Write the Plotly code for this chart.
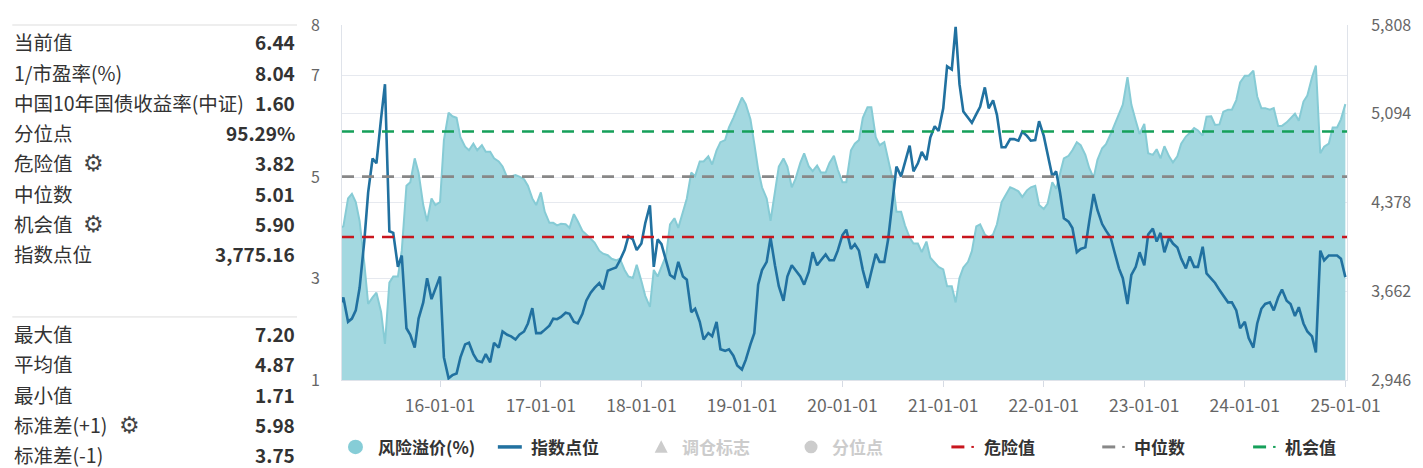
import plotly.graph_objects as go
import pandas as pd

# ---------------- data ----------------
dates = list(pd.date_range("2015-01-01", "2024-12-15", freq="SMS").strftime("%Y-%m-%d")) + ["2024-12-31"]

premium = [
    4.00, 4.03, 4.58, 4.67, 4.51, 4.13, 3.30, 2.50, 2.63, 2.72, 2.34, 1.71, 2.92, 3.04, 3.04, 3.55, 4.83, 4.90, 5.37, 5.09, 4.45, 4.13, 4.58, 4.45,
    4.51, 5.73, 6.27, 6.20, 6.17, 5.79, 5.60, 5.53, 5.66, 5.53, 5.63, 5.50, 5.50, 5.37, 5.31, 5.21, 4.99, 5.02, 5.04, 5.01, 4.96, 4.83, 4.58, 4.45,
    4.70, 4.32, 4.10, 4.10, 4.05, 4.08, 4.07, 4.00, 4.27, 4.13, 3.94, 3.87, 3.78, 3.71, 3.55, 3.49, 3.46, 3.39, 3.36, 3.39, 3.17, 3.04, 3.01, 3.27,
    2.95, 2.66, 2.44, 3.17, 3.04, 3.23, 3.46, 4.07, 4.19, 4.00, 4.32, 4.58, 5.09, 5.02, 5.31, 5.31, 5.41, 5.25, 5.53, 5.69, 5.73, 5.98, 6.17, 6.36,
    6.57, 6.44, 6.14, 5.66, 5.15, 4.80, 4.58, 4.14, 4.70, 5.21, 5.37, 5.21, 4.80, 4.97, 5.28, 5.47, 5.21, 5.12, 5.23, 5.09, 5.09, 5.28, 5.42, 5.15,
    4.90, 4.90, 5.53, 5.66, 5.73, 6.17, 6.38, 6.38, 5.79, 5.63, 5.69, 5.34, 4.96, 4.32, 4.32, 4.05, 3.81, 3.69, 3.69, 3.52, 3.73, 3.41, 3.32, 3.23,
    3.18, 2.85, 2.85, 2.53, 3.01, 3.22, 3.33, 3.54, 4.03, 4.07, 3.87, 3.81, 3.87, 4.07, 4.51, 4.64, 4.80, 4.77, 4.72, 4.61, 4.74, 4.80, 4.83, 4.45,
    4.37, 4.48, 4.90, 4.77, 5.05, 5.37, 5.42, 5.53, 5.69, 5.63, 5.44, 5.18, 4.99, 5.34, 5.57, 5.65, 5.85, 6.04, 6.24, 6.43, 6.97, 6.43, 6.11, 5.85,
    6.05, 5.47, 5.44, 5.55, 5.37, 5.61, 5.41, 5.29, 5.41, 5.66, 5.80, 5.87, 5.97, 5.92, 5.82, 6.19, 6.20, 6.03, 6.04, 6.29, 6.33, 6.33, 6.52, 6.87,
    7.00, 7.00, 7.10, 6.59, 6.36, 6.36, 6.33, 6.36, 6.01, 6.01, 6.08, 6.17, 6.25, 6.11, 6.49, 6.61, 6.97, 7.20, 5.47, 5.60, 5.66, 5.98, 5.98, 6.14,
    6.44,
]

index_points = [
    3546, 3611, 3415, 3441, 3507, 3689, 4067, 4458, 4732, 4693, 5058, 5331, 4145, 4132, 3858, 3950, 3363, 3311, 3207, 3441, 3572, 3767, 3598, 3676,
    3780, 3128, 2960, 2985, 2998, 3128, 3233, 3246, 3155, 3102, 3089, 3155, 3089, 3246, 3207, 3337, 3311, 3298, 3272, 3311, 3337, 3402, 3525, 3324,
    3324, 3350, 3384, 3441, 3436, 3454, 3488, 3480, 3415, 3402, 3480, 3585, 3650, 3689, 3728, 3676, 3827, 3840, 3853, 3911, 3994, 4106, 4080, 3994,
    4046, 4210, 4354, 3858, 4080, 4041, 3898, 3793, 3767, 3898, 3780, 3754, 3493, 3520, 3415, 3272, 3324, 3298, 3415, 3194, 3181, 3194, 3142, 3063,
    3030, 3108, 3233, 3324, 3715, 3832, 3898, 4093, 3871, 3702, 3585, 3780, 3871, 3832, 3780, 3715, 3819, 3976, 3871, 3911, 3958, 3911, 3911, 3989,
    4114, 4158, 4002, 4041, 3989, 3832, 3689, 3819, 3963, 3898, 3898, 4080, 4406, 4667, 4588, 4703, 4836, 4628, 4693, 4784, 4719, 4901, 4992, 4953,
    5136, 5475, 5449, 5793, 5331, 5110, 5058, 5019, 5089, 5149, 5305, 5136, 5201, 5084, 4823, 4823, 4888, 4888, 4875, 4948, 4914, 4875, 4880, 5032,
    4914, 4771, 4588, 4628, 4458, 4250, 4223, 4171, 3976, 4002, 4015, 4223, 4445, 4315, 4203, 4150, 4093, 3976, 3846, 3767, 3559, 3793, 3858, 3976,
    3870, 4119, 4166, 4062, 4132, 3976, 4093, 4046, 4015, 3924, 3846, 3942, 3858, 3858, 4020, 3806, 3767, 3728, 3671, 3624, 3572, 3572, 3507, 3363,
    3415, 3285, 3207, 3402, 3520, 3559, 3572, 3507, 3611, 3676, 3585, 3559, 3462, 3533, 3402, 3337, 3298, 3168, 3989, 3911, 3950, 3950, 3950, 3924,
    3775.16,
]

danger_value = 3.82
median_value = 5.01
opportunity_value = 5.90

left_tick_vals = [1, 3, 5, 7, 8]
right_tick_vals = [2946, 3662, 4378, 5094, 5808]
right_tick_text = ["2,946", "3,662", "4,378", "5,094", "5,808"]
x_tick_vals = ["2016-01-01", "2017-01-01", "2018-01-01", "2019-01-01", "2020-01-01",
               "2021-01-01", "2022-01-01", "2023-01-01", "2024-01-01", "2025-01-01"]
x_tick_text = ["16-01-01", "17-01-01", "18-01-01", "19-01-01", "20-01-01",
               "21-01-01", "22-01-01", "23-01-01", "24-01-01", "25-01-01"]

panel_top_labels = ["当前值", "1/市盈率(%)", "中国10年国债收益率(中证)", "分位点", "危险值", "中位数", "机会值", "指数点位"]
panel_top_values = ["6.44", "8.04", "1.60", "95.29%", "3.82", "5.01", "5.90", "3,775.16"]
panel_bottom_labels = ["最大值", "平均值", "最小值", "标准差(+1)", "标准差(-1)"]
panel_bottom_values = ["7.20", "4.87", "1.71", "5.98", "3.75"]

legend_names = ["风险溢价(%)", "指数点位", "调仓标志", "分位点", "危险值", "中位数", "机会值"]
legend_hidden_row2 = ["标准差(+1)", "平均值", "标准差(-1)"]

# ---------------- styling ----------------
FONT = "Noto Sans CJK SC, Noto Sans, sans-serif"
AREA_LINE = "#86cbd5"
AREA_FILL = "#a3d8e0"
INDEX_COLOR = "#2171a0"
RED = "#c8161e"
GRAY = "#888888"
GREEN = "#16a05a"
TEXT = "#333333"
MUTED = "#cccccc"
AXIS_TEXT = "#666666"
GRID = "#e6e9ef"

W, H = 1423, 468
L, R, T, B = 342, 1348, 14, 380


def px(x):
    return (x - L) / (R - L)


def py(y):
    return (B - y) / (B - T)


fig = go.Figure()
fig.add_trace(go.Scatter(
    x=dates, y=premium, name=legend_names[0], mode="lines",
    line=dict(color=AREA_LINE, width=2), fill="tozeroy", fillcolor=AREA_FILL,
    yaxis="y", showlegend=False, hoverinfo="skip"))
fig.add_trace(go.Scatter(
    x=dates, y=index_points, name=legend_names[1], mode="lines",
    line=dict(color=INDEX_COLOR, width=2.6), yaxis="y2", showlegend=False, hoverinfo="skip"))

shapes = []
for val, col in [(danger_value, RED), (median_value, GRAY), (opportunity_value, GREEN)]:
    shapes.append(dict(type="line", xref="paper", x0=0, x1=1, yref="y", y0=val, y1=val,
                       line=dict(color=col, width=2.6, dash="12px,8px"), layer="above"))

annotations = []

# ---- left info panel ----
for ysep in (14, 315):
    shapes.append(dict(type="line", xref="paper", yref="paper", x0=px(12), x1=px(297),
                       y0=py(ysep), y1=py(ysep), line=dict(color="#dddddd", width=1)))

top_rows_y = [31.5, 62.7, 93.5, 125, 156, 187.5, 219, 250]
bottom_rows_y = [332, 363, 395, 426, 457]
gear_rows = {"危险值": 93, "机会值": 93, "标准差(+1)": 129}


def add_row(label, value, yc):
    annotations.append(dict(xref="paper", yref="paper", x=px(12), y=py(yc), xanchor="left", yanchor="middle",
                            text=label, showarrow=False, font=dict(family=FONT, size=19.5, color=TEXT)))
    annotations.append(dict(xref="paper", yref="paper", x=px(297), y=py(yc), xanchor="right", yanchor="middle",
                            text="<b>" + value + "</b>", showarrow=False, font=dict(family=FONT, size=19, color=TEXT)))
    if label in gear_rows:
        annotations.append(dict(xref="paper", yref="paper", x=px(gear_rows[label]), y=py(yc), xanchor="center",
                                yanchor="middle", text="⚙", showarrow=False,
                                font=dict(family="DejaVu Sans", size=23, color="#444444")))


for lab, val, yc in zip(panel_top_labels, panel_top_values, top_rows_y):
    add_row(lab, val, yc)
for lab, val, yc in zip(panel_bottom_labels, panel_bottom_values, bottom_rows_y):
    add_row(lab, val, yc)

# ---- custom legend ----
LY = 449
shapes.append(dict(type="circle", xref="paper", yref="paper", x0=px(348), x1=px(363), y0=py(LY + 7.5), y1=py(LY - 7.5),
                   fillcolor="#86cdd7", line=dict(width=0)))
shapes.append(dict(type="line", xref="paper", yref="paper", x0=px(498), x1=px(522), y0=py(LY), y1=py(LY),
                   line=dict(color=INDEX_COLOR, width=3.5)))
tri = "M {} {} L {} {} L {} {} Z".format(px(661.5), py(LY - 7), px(655), py(LY + 6), px(668), py(LY + 6))
shapes.append(dict(type="path", xref="paper", yref="paper", path=tri, fillcolor=MUTED, line=dict(width=0)))
shapes.append(dict(type="circle", xref="paper", yref="paper", x0=px(805), x1=px(818), y0=py(LY + 6.5), y1=py(LY - 6.5),
                   fillcolor=MUTED, line=dict(width=0)))
for x0, col in [(952, RED), (1103, GRAY), (1254, GREEN)]:
    shapes.append(dict(type="line", xref="paper", yref="paper", x0=px(x0), x1=px(x0 + 13), y0=py(LY), y1=py(LY),
                       line=dict(color=col, width=3)))
    shapes.append(dict(type="line", xref="paper", yref="paper", x0=px(x0 + 20), x1=px(x0 + 22.5), y0=py(LY), y1=py(LY),
                       line=dict(color=col, width=2)))

legend_text_x = [376, 529, 680, 830, 983, 1133, 1284]
legend_text_col = [TEXT, TEXT, MUTED, MUTED, TEXT, TEXT, TEXT]
for name, xx, col in zip(legend_names, legend_text_x, legend_text_col):
    annotations.append(dict(xref="paper", yref="paper", x=px(xx), y=py(LY), xanchor="left", yanchor="middle",
                            text="<b>" + name + "</b>", showarrow=False, font=dict(family=FONT, size=17, color=col)))
for name, xx in zip(legend_hidden_row2, [376, 529, 680]):
    annotations.append(dict(xref="paper", yref="paper", x=px(xx), y=py(479), xanchor="left", yanchor="middle",
                            text="<b>" + name + "</b>", showarrow=False, font=dict(family=FONT, size=17, color="#d8d8d8")))

fig.update_layout(
    width=W, height=H,
    margin=dict(l=L, r=W - R, t=T, b=H - B, pad=0),
    paper_bgcolor="white", plot_bgcolor="white",
    font=dict(family=FONT, color=AXIS_TEXT),
    showlegend=False,
    xaxis=dict(type="date", range=["2015-01-10", "2025-01-06"], tickvals=x_tick_vals, ticktext=x_tick_text,
               ticks="outside", ticklen=6, tickcolor="#d6dbe4", showgrid=False, showline=True,
               linecolor="#dfe3ea", zeroline=False, tickfont=dict(size=17.5, color=AXIS_TEXT),
               ticklabelstandoff=4),
    yaxis=dict(range=[1, 8], tickvals=left_tick_vals, showgrid=True, gridcolor=GRID, gridwidth=1,
               showline=True, linecolor="#dfe3ea", zeroline=False, ticks="",
               tickfont=dict(size=16, color=AXIS_TEXT), ticklabelstandoff=18),
    yaxis2=dict(range=[2946, 5808], tickvals=right_tick_vals, ticktext=right_tick_text, overlaying="y",
                side="right", showgrid=True, gridcolor=GRID, gridwidth=1, showline=True,
                linecolor="#dfe3ea", zeroline=False, ticks="",
                tickfont=dict(size=16, color=AXIS_TEXT), ticklabelstandoff=20),
    shapes=shapes,
    annotations=annotations,
)

page_fix = (
    "document.documentElement.style.margin='0';document.body.style.margin='0';"
    "document.body.style.overflow='hidden';"
    "var gd=document.getElementById('{plot_id}');"
    "gd.style.position='absolute';gd.style.left='0px';gd.style.top='0px';"
)
fig.write_html("out.html", post_script=page_fix, config={"displayModeBar": False})
